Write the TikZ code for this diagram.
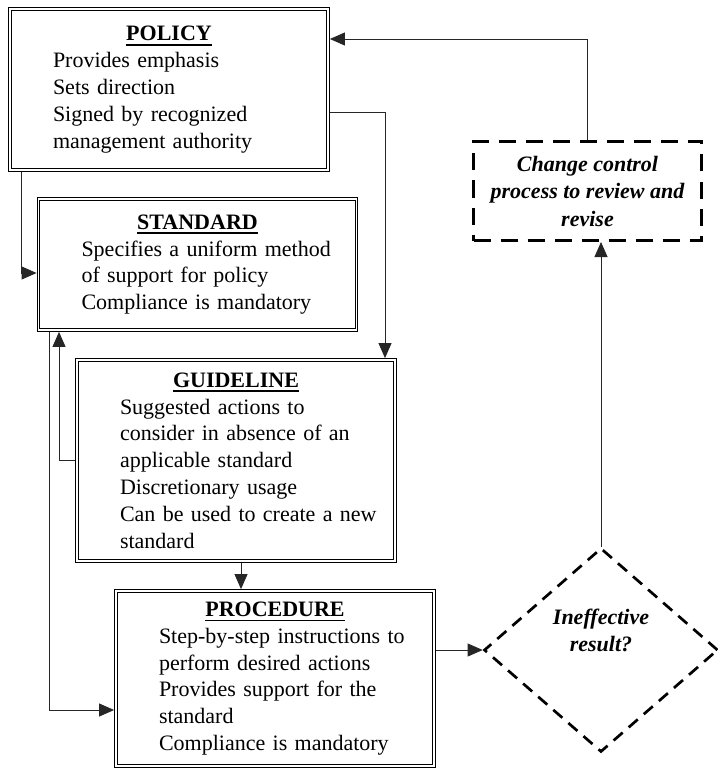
\documentclass[tikz,border=0pt]{standalone}
\usepackage{fontspec}
\setmainfont{Liberation Serif}
\usetikzlibrary{arrows.meta,shapes.geometric}
% bold heading with a heavy underline
\newcommand\boxhead[1]{\setbox0\hbox{\textbf{#1}}\rlap{\rule[-4.8pt]{\wd0}{1.6pt}}\box0}
% heading centred, body lines indented
\newcommand\boxtext[2]{\centering\boxhead{#1}\par\raggedright\leftskip=43pt #2\par}
\begin{document}
\begin{tikzpicture}[x=1pt,y=-1pt,
  every node/.style={font=\fontsize{22}{26.8}\selectfont},
  docbox/.style={draw, double, double distance=1.6pt, line width=1.1pt,
    inner sep=0pt, outer sep=1.9pt, minimum width=318pt, text width=318pt, align=left},
  chbox/.style={draw, line width=3pt, dash pattern=on 17pt off 10pt,
    minimum width=228pt, minimum height=99pt, inner sep=0pt, align=center,
    font=\fontsize{22}{27.5}\selectfont\bfseries\itshape},
  decision/.style={diamond, draw, line width=2.7pt, dash pattern=on 12pt off 8pt,
    minimum width=234pt, minimum height=204pt, inner sep=0pt},
  decisiontext/.style={align=center, font=\fontsize{22}{27}\selectfont\bfseries\itshape},
  conn/.style={line width=0.85pt, draw=black!85, -{Triangle[length=15pt,width=13pt]}}]
\useasboundingbox (0,0) rectangle (717,770);

\node[docbox, minimum height=161pt] (pol) at (169,89.5)
  {\boxtext{POLICY}{Provides emphasis\\Sets direction\\Signed by recognized\\management authority}};
\node[docbox, minimum height=131pt] (std) at (197.5,264.5)
  {\boxtext{STANDARD}{Specifies a uniform method\\of support for policy\\Compliance is mandatory}};
\node[docbox, minimum height=201pt] (gui) at (236,460.5)
  {\boxtext{GUIDELINE}{Suggested actions to\\consider in absence of an\\applicable standard\\Discretionary usage\\Can be used to create a new\\standard}};
\node[docbox, minimum height=175pt] (proc) at (275,678.5)
  {\boxtext{PROCEDURE}{Step-by-step instructions to\\perform desired actions\\Provides support for the\\standard\\Compliance is mandatory}};

\node[chbox] (ch) at (587.5,191) {Change control\\process to review and\\revise};
\node[decision] (dec) at (601,650) {};
\node[decisiontext] (dectext) at (601,630) {Ineffective\\result?};

% document hierarchy links
\draw[conn] (ch.north) |- (pol.east |- 0,39);
\draw[conn] (pol.east |- 0,112) -| (385,0 |- gui.north);
\draw[conn] (21,0 |- pol.south) |- (std.west |- 0,273);
\draw[conn] (49,0 |- std.south) |- (proc.west |- 0,710);
\draw[conn] (gui.west) -| (59,0 |- std.south);
\draw[conn] (241,0 |- gui.south) -- (241,0 |- proc.north);
% review loop
\draw[conn] (proc.east |- dec.west) -- (dec.west);
\draw[conn] (dec.north) -- (dec.north |- ch.south);
\end{tikzpicture}
\end{document}
